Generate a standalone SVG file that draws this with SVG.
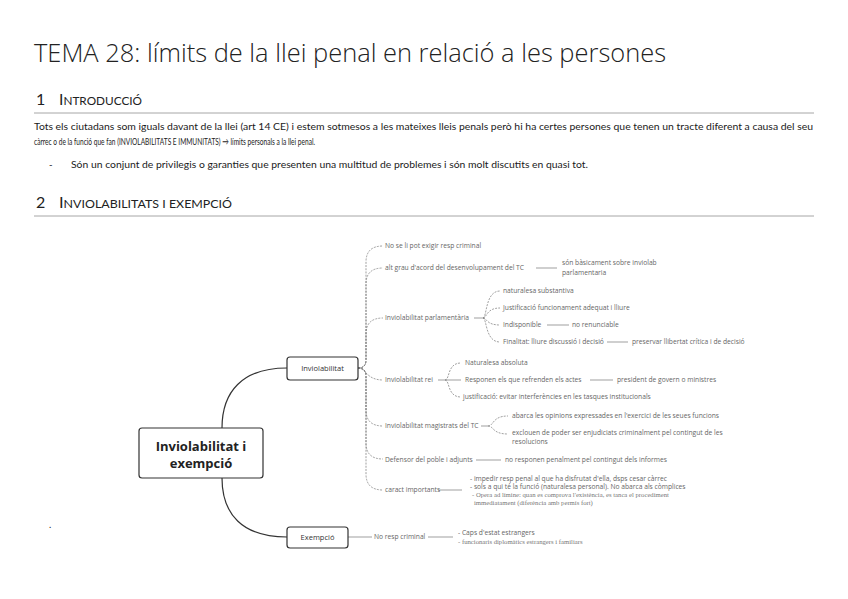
<svg xmlns="http://www.w3.org/2000/svg" width="848" height="599" viewBox="0 0 848 599">
<style>
.title{font-family:"Open Sans","Liberation Sans",sans-serif;font-weight:300;font-size:26px;fill:#222}
.h{font-family:"Lato","Liberation Sans",sans-serif;fill:#222;font-size:12px}
.hb{font-size:16px}
.p{font-family:"Lato","Liberation Sans",sans-serif;font-size:9.5px;fill:#1a1a1a}
.rule{stroke:#a6a6a6;stroke-width:1}
.node rect{fill:#fff;stroke:#333;stroke-width:1.2}
.big{font-family:"Open Sans","Liberation Sans",sans-serif;font-weight:700;font-size:13px;fill:#222;text-anchor:middle}
.mid{font-family:"Open Sans","Liberation Sans",sans-serif;font-size:7.5px;fill:#333;text-anchor:middle}
.s{font-family:"Open Sans","Liberation Sans",sans-serif;font-size:6.7px;fill:#666}
.sr{font-family:"Liberation Serif",serif;font-size:6.7px;fill:#777}
.main{fill:none;stroke:#333;stroke-width:1.2}
.dash{fill:none;stroke:#777;stroke-width:0.7;stroke-dasharray:2 1.2}
.solid{fill:none;stroke:#777;stroke-width:0.7}
</style>

<!-- document header -->
<text class="title" x="34" y="62" textLength="632" lengthAdjust="spacingAndGlyphs">TEMA 28: límits de la llei penal en relació a les persones</text>

<text class="h" x="36" y="105"><tspan class="hb">1</tspan></text>
<text class="h" x="59" y="105" textLength="83" lengthAdjust="spacingAndGlyphs"><tspan class="hb">I</tspan>NTRODUCCIÓ</text>
<line class="rule" x1="34" y1="113" x2="814" y2="113"/>

<text class="p" x="34" y="130" textLength="779" lengthAdjust="spacingAndGlyphs">Tots els ciutadans som iguals davant de la llei (art 14 CE) i estem sotmesos a les mateixes lleis penals però hi ha certes persones que tenen un tracte diferent a causa del seu</text>
<text class="p" x="34" y="145" textLength="281" lengthAdjust="spacingAndGlyphs">càrrec o de la funció que fan (INVIOLABILITATS E IMMUNITATS) → límits personals a la llei penal.</text>
<text class="p" x="49" y="168">-</text>
<text class="p" x="71" y="168" textLength="517" lengthAdjust="spacingAndGlyphs">Són un conjunt de privilegis o garanties que presenten una multitud de problemes i són molt discutits en quasi tot.</text>

<text class="h" x="36" y="208"><tspan class="hb">2</tspan></text>
<text class="h" x="59" y="208" textLength="173" lengthAdjust="spacingAndGlyphs"><tspan class="hb">I</tspan>NVIOLABILITATS I EXEMPCIÓ</text>
<line class="rule" x1="34" y1="216" x2="814" y2="216"/>

<text class="p" x="49" y="528">.</text>

<!-- connectors -->
<g id="connectors">
  <path class="main" d="M222,428 C222,392 242,368 287,368"/>
  <path class="main" d="M222,478 C222,514 242,537 287,537"/>

  <!-- Inviolabilitat children -->
  <path class="dash" d="M358,368 Q366,368 366,360 L366,262 Q366,246 383,246"/>
  <path class="dash" d="M358,368 Q366,368 366,360 L366,284 Q366,268 383,268"/>
  <path class="dash" d="M358,368 Q366,368 366,360 L366,334 Q366,318 383,318"/>
  <path class="dash" d="M358,368 C366,368 366,380 383,380"/>
  <path class="dash" d="M358,368 Q366,368 366,376 L366,410 Q366,426 383,426"/>
  <path class="dash" d="M358,368 Q366,368 366,376 L366,443 Q366,459 383,459"/>
  <path class="dash" d="M358,368 Q366,368 366,376 L366,474 Q366,490 383,490"/>

  <!-- alt grau -->
  <line class="solid" x1="536" y1="268" x2="557" y2="268"/>

  <!-- parlamentaria -->
  <line class="solid" x1="474" y1="318" x2="483" y2="318"/>
  <path class="dash" d="M483,318 C487,318 485,291 500,291"/>
  <path class="dash" d="M483,318 C487,318 486,308 500,308"/>
  <path class="dash" d="M483,318 C487,318 486,325 500,325"/>
  <path class="dash" d="M483,318 C487,318 485,342 500,342"/>
  <line class="solid" x1="547" y1="325" x2="569" y2="325"/>
  <line class="solid" x1="607" y1="342" x2="628" y2="342"/>

  <!-- rei -->
  <line class="solid" x1="438" y1="380" x2="445" y2="380"/>
  <path class="dash" d="M445,380 C450,380 447,363 461,363"/>
  <line class="solid" x1="445" y1="380" x2="461" y2="380"/>
  <path class="dash" d="M445,380 C450,380 447,397 461,397"/>
  <line class="solid" x1="590" y1="380" x2="613" y2="380"/>

  <!-- magistrats -->
  <line class="solid" x1="481" y1="426" x2="488" y2="426"/>
  <path class="dash" d="M488,426 C494,426 492,416 508,416"/>
  <path class="dash" d="M488,426 C494,426 492,434 508,434"/>

  <!-- defensor -->
  <line class="solid" x1="476" y1="460" x2="501" y2="460"/>

  <!-- caract -->
  <line class="solid" x1="438" y1="490" x2="462" y2="490"/>

  <!-- exempcio -->
  <line class="solid" x1="348" y1="537" x2="372" y2="537"/>
  <line class="solid" x1="428" y1="537" x2="453" y2="537"/>
</g>

<!-- nodes -->
<g id="central" class="node">
  <rect x="139" y="428" width="124" height="50" rx="3"/>
  <text class="big" x="201" y="451">Inviolabilitat i</text>
  <text class="big" x="201" y="468">exempció</text>
</g>
<g id="inviolabilitat" class="node">
  <rect x="287" y="357" width="71" height="23" rx="3"/>
  <text class="mid" x="322.5" y="371">Inviolabilitat</text>
</g>
<g id="exempcio" class="node">
  <rect x="287" y="527" width="61" height="21" rx="3"/>
  <text class="mid" x="317.5" y="540">Exempció</text>
</g>

<g id="no-exigir"><text class="s" x="385" y="248">No se li pot exigir resp criminal</text></g>
<g id="alt-grau">
  <text class="s" x="385" y="270">alt grau d'acord del desenvolupament del TC</text>
  <text class="s" x="562" y="265">són bàsicament sobre inviolab</text>
  <text class="s" x="562" y="275">parlamentaria</text>
</g>
<g id="parlamentaria">
  <text class="s" x="385" y="320">Inviolabilitat parlamentària</text>
  <text class="s" x="503" y="293">naturalesa substantiva</text>
  <text class="s" x="503" y="310">Justificació funcionament adequat i lliure</text>
  <text class="s" x="503" y="327">Indisponible</text>
  <text class="s" x="572" y="327">no renunciable</text>
  <text class="s" x="503" y="344">Finalitat: lliure discussió i decisió</text>
  <text class="s" x="632" y="344">preservar llibertat crítica i de decisió</text>
</g>
<g id="rei">
  <text class="s" x="385" y="382">Inviolabilitat rei</text>
  <text class="s" x="465" y="365">Naturalesa absoluta</text>
  <text class="s" x="465" y="382">Responen els que refrenden els actes</text>
  <text class="s" x="617" y="382">president de govern o ministres</text>
  <text class="s" x="463" y="399">justificació: evitar interferències en les tasques institucionals</text>
</g>
<g id="magistrats">
  <text class="s" x="385" y="428">Inviolabilitat magistrats del TC</text>
  <text class="s" x="512" y="418">abarca les opinions expressades en l'exercici de les seues funcions</text>
  <text class="s" x="512" y="435">exclouen de poder ser enjudiciats criminalment pel contingut de les</text>
  <text class="s" x="512" y="444">resolucions</text>
</g>
<g id="defensor">
  <text class="s" x="385" y="462">Defensor del poble i adjunts</text>
  <text class="s" x="505" y="462">no responen penalment pel contingut dels informes</text>
</g>
<g id="caract">
  <text class="s" x="385" y="492">caract importants</text>
  <text class="s" x="470" y="481">- impedir resp penal al que ha disfrutat d'ella, dsps cesar càrrec</text>
  <text class="s" x="470" y="489">- sols a qui té la funció (naturalesa personal). No abarca als còmplices</text>
  <text class="sr" x="472" y="497">- Opera ad límine: quan es comprova l'existència, es tanca el procediment</text>
  <text class="sr" x="474" y="505">immediatament (diferència amb permís fort)</text>
</g>
<g id="no-resp">
  <text class="s" x="374" y="539">No resp criminal</text>
  <text class="s" x="458" y="535">- Caps d'estat estrangers</text>
  <text class="sr" x="458" y="544">- funcionaris diplomàtics estrangers i familiars</text>
</g>
</svg>
